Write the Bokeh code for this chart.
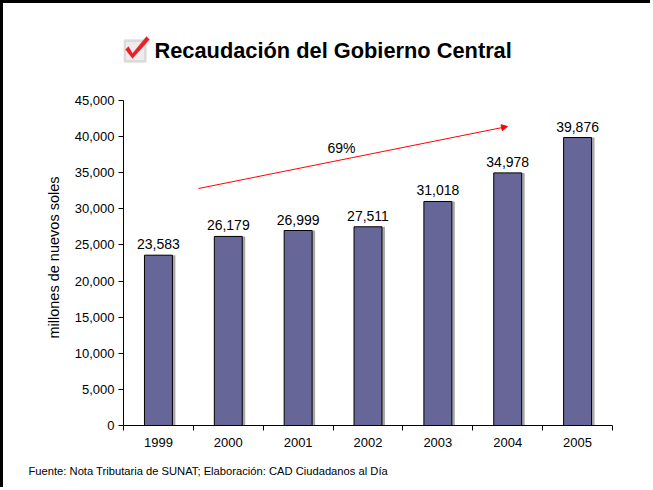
from bokeh.plotting import figure
from bokeh.models import (ColumnDataSource, FixedTicker, NumeralTickFormatter, Label,
                          Arrow, NormalHead, BoxAnnotation, PolyAnnotation, Range1d, Title)
from bokeh.core.properties import value
from bokeh.embed import file_html
from bokeh.resources import INLINE

years = ["1999", "2000", "2001", "2002", "2003", "2004", "2005"]
values = [23583, 26179, 26999, 27511, 31018, 34978, 39876]
labels = ["23,583", "26,179", "26,999", "27,511", "31,018", "34,978", "39,876"]
y_ticks = [0, 5000, 10000, 15000, 20000, 25000, 30000, 35000, 40000, 45000]
growth_text = "69%"
title_text = "Recaudación del Gobierno Central"
source_text = "Fuente: Nota Tributaria de SUNAT; Elaboración: CAD Ciudadanos al Día"
y_label = "millones de nuevos soles"

FONT = "Liberation Sans"

n = len(years)
xs = list(range(n))
src = ColumnDataSource(dict(x=xs, value=values, label=labels))

Y_TOP = 45000 * 422 / 325  # room above the axis for the heading

p = figure(x_range=Range1d(-0.5, n - 0.5), y_range=Range1d(0, Y_TOP),
           width=650, height=487, output_backend="svg", toolbar_location=None,
           min_border_left=120, min_border_right=41, min_border_top=0, min_border_bottom=65)
p.outline_line_color = None
p.grid.visible = False
p.background_fill_color = "white"
p.border_fill_color = "white"

# shadow then bars
shadow_dx = 3 * n / 489
p.vbar(x=[x + shadow_dx for x in xs], top=values, width=0.4,
       fill_color="#a8a8a8", line_color=None)
p.vbar(x="x", top="value", width=0.4, source=src,
       fill_color="#666699", line_color="black", line_width=1)
p.text(x="x", y="value", text="label", source=src, text_align="center",
       text_baseline="bottom", y_offset=-6, text_font_size="14px",
       text_font=value(FONT), text_color="black")

# y axis
p.yaxis.bounds = (0, 45000)
p.yaxis.ticker = FixedTicker(ticks=y_ticks)
p.yaxis.formatter = NumeralTickFormatter(format="0,0")
p.yaxis.major_tick_in = 0
p.yaxis.major_tick_out = 5
p.yaxis.minor_tick_line_color = None
p.yaxis.major_label_text_font = FONT
p.yaxis.major_label_text_font_size = "13px"
p.yaxis.major_label_standoff = 4

# y axis title, placed alongside the 0-45,000 span
p.add_layout(Title(text=y_label, align="left", offset=87, text_font=FONT,
                   text_font_size="14.5px", text_font_style="normal",
                   text_color="black", standoff=19), "left")

# x axis: labels at categories, ticks at category boundaries
p.xaxis.ticker = FixedTicker(ticks=xs, minor_ticks=[i - 0.5 for i in range(n + 1)])
p.xaxis.major_label_overrides = {i: y for i, y in enumerate(years)}
p.xaxis.major_tick_line_color = None
p.xaxis.minor_tick_line_color = "black"
p.xaxis.minor_tick_in = 0
p.xaxis.minor_tick_out = 5
p.xaxis.major_label_text_font = FONT
p.xaxis.major_label_text_font_size = "13px"
p.xaxis.major_label_standoff = 6
p.axis.axis_line_color = "black"
p.axis.major_label_text_color = "black"

# growth arrow
p.add_layout(Arrow(end=NormalHead(size=6, fill_color="red", line_color="red"),
                   x_start=0.574, y_start=32815, x_end=4.997, y_end=41400,
                   line_color="red", line_width=1))
p.add_layout(Label(x=2.62, y=38354, text=growth_text, text_align="center",
                   text_baseline="middle", text_font=FONT, text_font_size="14px",
                   text_color="black"))

# heading with check-box icon (screen units from the frame's bottom-left)
p.add_layout(Label(x=31, y=375, x_units="screen", y_units="screen", text=title_text,
                   text_font=FONT, text_font_size="21.8px", text_font_style="bold",
                   text_color="black", text_baseline="middle", text_align="left"))
p.add_layout(BoxAnnotation(left=1, right=22, bottom=364, top=385, left_units="screen",
                           right_units="screen", bottom_units="screen", top_units="screen",
                           fill_color="#ececec", fill_alpha=1, line_color="#9a9a9a",
                           line_width=2.5))
p.add_layout(PolyAnnotation(xs=[2, 5, 9, 23, 26, 9], ys=[376, 379, 372, 389, 386, 367],
                            xs_units="screen", ys_units="screen",
                            fill_color="#e8202a", fill_alpha=1, line_color="#e8202a"))

# footnote
p.add_layout(Title(text=source_text, align="left", offset=-95, text_font=FONT,
                   text_font_size="11.2px", text_font_style="normal",
                   text_color="black", standoff=27), "below")

p.styles = {"border-top": "3px solid black", "border-left": "3px solid black"}

open("out.html", "w").write(file_html(p, INLINE))
